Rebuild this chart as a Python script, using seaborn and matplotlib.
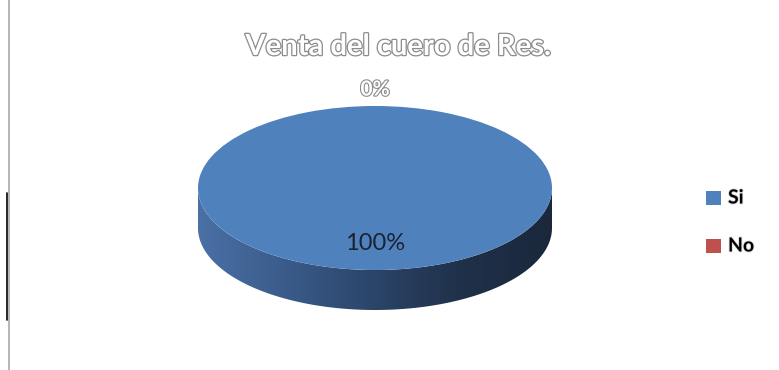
import numpy as np
import matplotlib
matplotlib.use("Agg")
import matplotlib.pyplot as plt
import matplotlib.patheffects as pe
from matplotlib.patches import Polygon, Rectangle
from matplotlib.colors import LinearSegmentedColormap
import seaborn as sns

# Chart data
categories = ["Si", "No"]
values = [100, 0]
colors = ["#4F81BD", "#C0504D"]
title = "Venta del cuero de Res."

sns.set_theme(style="white")
plt.rcParams["font.family"] = ["Lato", "DejaVu Sans"]

W, H = 779, 370
fig = plt.figure(figsize=(W / 100, H / 100), dpi=100)
fig.patch.set_facecolor("white")

# Overlay axes in pixel coordinates for decorations and text
ov = fig.add_axes([0, 0, 1, 1], zorder=3)
ov.set_xlim(0, W)
ov.set_ylim(H, 0)
ov.axis("off")
ov.patch.set_alpha(0)

# Pie axes: x in [-1, 1] spans the ellipse width, y squashed for a tilted look
px_l, px_r, px_t, px_b = 198, 552, 100, 320
top_y, bot_y = 106, 270
ax = fig.add_axes([px_l / W, 1 - px_b / H, (px_r - px_l) / W, (px_b - px_t) / H], zorder=2)
unit = 2 / (bot_y - top_y)
ymax = 1 + (top_y - px_t) * unit
ymin = -1 - (px_b - bot_y) * unit
depth = 40 * unit

# Side band of the cylinder with a horizontal shading gradient
t = np.linspace(0, np.pi, 200)
top_arc = np.column_stack([np.cos(t), -np.sin(t)])
bot_arc = np.column_stack([np.cos(t[::-1]), -np.sin(t[::-1]) - depth])
side = Polygon(np.vstack([top_arc, bot_arc]), closed=True, facecolor="none", edgecolor="none")
ax.add_patch(side)
cmap = LinearSegmentedColormap.from_list(
    "side", ["#4a70a6", "#3a5b8a", "#2b4468", "#1f3049", "#1b283c"])
grad = np.linspace(0, 1, 256).reshape(1, -1)
im = ax.imshow(grad, cmap=cmap, extent=(-1, 1, -1 - depth - 0.05, 0.05),
               aspect="auto", zorder=1, interpolation="bilinear")
im.set_clip_path(side)

# Top face
wedges, _ = ax.pie(values, colors=colors, radius=1, center=(0, 0), startangle=90,
                   counterclock=False, frame=True,
                   wedgeprops=dict(linewidth=0, zorder=2))
ax.set_aspect("auto")
ax.set_xlim(-1, 1)
ax.set_ylim(ymin, ymax)
ax.axis("off")

# Percentage labels placed from the wedge angles
total = sum(values)
for w, v in zip(wedges, values):
    mid = np.deg2rad((w.theta1 + w.theta2) / 2)
    pct = f"{v / total * 100:.0f}%"
    if v / total > 0.5:
        r = 0.68
        ax.text(r * np.cos(mid), r * np.sin(mid), pct, ha="center", va="center",
                fontsize=17, color="#1c2233", zorder=5)
    else:
        r = 1.2
        ax.text(r * np.cos(mid), r * np.sin(mid), pct, ha="center", va="center",
                fontsize=15, color="white", fontweight="bold", zorder=5,
                path_effects=[pe.withStroke(linewidth=1.6, foreground="#8c8c8c")])

# Title
ov.text(398, 47, title, ha="center", va="center", fontsize=21, fontweight="bold",
        color="white", path_effects=[pe.withStroke(linewidth=1.8, foreground="#8c8c8c")])

# Legend
leg_y = [198, 246]
for cat, col, y in zip(categories, colors, leg_y):
    ov.add_patch(Rectangle((706, y - 7), 15, 14, facecolor=col, edgecolor="none"))
    ov.text(728, y, cat, ha="left", va="center", fontsize=14, fontweight="bold",
            color="black", path_effects=[pe.withStroke(linewidth=1.2, foreground="#d8d8d8")])

# Left border lines
ov.plot([9, 9], [0, H], color="#a8a8a8", lw=1.2)
ov.plot([7, 7], [193, 320], color="black", lw=1.2)

fig.savefig("out.png", dpi=100, facecolor="white")
